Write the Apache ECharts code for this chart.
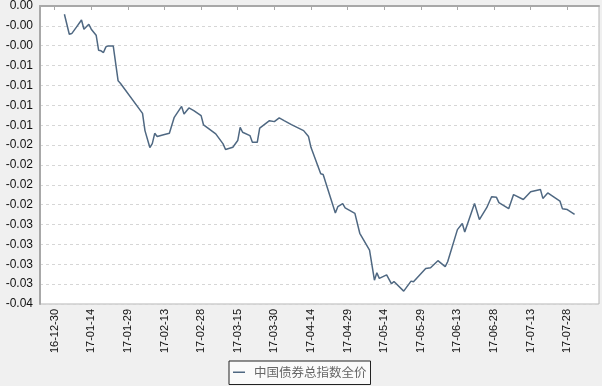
<!DOCTYPE html>
<html>
<head>
<meta charset="utf-8">
<script src="https://cdn.jsdelivr.net/npm/echarts@6/dist/echarts.min.js"></script>
<style>
html,body{margin:0;padding:0;background:#f0f0f0;}
#chart{width:602px;height:386px;}
</style>
</head>
<body>
<div id="chart"></div>
<script>
// Axis range (calendar days)
const axisStart = '2016-12-24';
const axisEnd = '2017-08-10';
const labelAnchor = '16-12-30';
const labelEvery = 15;

// Series: dates and values
const seriesName = '中国债券总指数全价';
const dates = [
 '17-01-03','17-01-05','17-01-06','17-01-08','17-01-10','17-01-11','17-01-13','17-01-14','17-01-16','17-01-17',
 '17-01-18','17-01-19','17-01-20','17-01-21','17-01-23','17-01-25','17-01-26','17-02-04','17-02-05','17-02-07',
 '17-02-08','17-02-09','17-02-10','17-02-13','17-02-15','17-02-17','17-02-20','17-02-21','17-02-23','17-02-25',
 '17-02-28','17-03-01','17-03-06','17-03-09','17-03-10','17-03-13','17-03-15','17-03-16','17-03-17','17-03-20',
 '17-03-21','17-03-23','17-03-24','17-03-28','17-03-30','17-04-01','17-04-03','17-04-06','17-04-11','17-04-13',
 '17-04-14','17-04-18','17-04-19','17-04-20','17-04-24','17-04-25','17-04-27','17-04-28','17-05-02','17-05-04',
 '17-05-08','17-05-10','17-05-11','17-05-12','17-05-15','17-05-17','17-05-18','17-05-22','17-05-25','17-05-26',
 '17-05-31','17-06-02','17-06-05','17-06-08','17-06-09','17-06-13','17-06-15','17-06-16','17-06-20','17-06-22',
 '17-06-25','17-06-27','17-06-29','17-06-30','17-07-04','17-07-06','17-07-10','17-07-13','17-07-17','17-07-18',
 '17-07-20','17-07-25','17-07-26','17-07-28','17-07-31'
];
const values = [
 -0.00104,-0.00355,-0.00347,-0.00263,-0.00176,-0.00292,-0.00230,-0.00292,-0.00368,-0.00556,
 -0.00564,-0.00586,-0.00514,-0.00502,-0.00502,-0.00941,-0.00975,-0.01351,-0.01568,-0.01781,
 -0.01731,-0.01602,-0.01643,-0.01618,-0.01602,-0.01401,-0.01263,-0.01359,-0.01283,-0.01317,
 -0.01380,-0.01497,-0.01609,-0.01735,-0.01806,-0.01778,-0.01693,-0.01527,-0.01589,-0.01631,
 -0.01715,-0.01715,-0.01537,-0.01443,-0.01455,-0.01409,-0.01443,-0.01493,-0.01568,-0.01643,
 -0.01778,-0.02111,-0.02120,-0.02217,-0.02605,-0.02525,-0.02487,-0.02540,-0.02609,-0.02860,
 -0.03073,-0.03450,-0.03358,-0.03428,-0.03383,-0.03496,-0.03466,-0.03588,-0.03462,-0.03471,
 -0.03303,-0.03293,-0.03205,-0.03280,-0.03218,-0.02814,-0.02738,-0.02844,-0.02484,-0.02687,
 -0.02538,-0.02400,-0.02408,-0.02475,-0.02550,-0.02373,-0.02435,-0.02337,-0.02308,-0.02421,
 -0.02352,-0.02455,-0.02550,-0.02561,-0.02622
];

// Y axis
const yMin = -0.0375;
const yMax = 0;
const yStep = 0.0025;
const yTickLabels = ['0.00','-0.00','-0.00','-0.01','-0.01','-0.01','-0.01','-0.02','-0.02','-0.02','-0.02','-0.03','-0.03','-0.03','-0.03','-0.04']; // top -> bottom

// ---- build ----
function fmt(d){
  const y = String(d.getUTCFullYear()).slice(2);
  const m = String(d.getUTCMonth()+1).padStart(2,'0');
  const dd = String(d.getUTCDate()).padStart(2,'0');
  return y+'-'+m+'-'+dd;
}
const categories = [];
for (let t = Date.parse(axisStart+'T00:00:00Z'); t <= Date.parse(axisEnd+'T00:00:00Z'); t += 86400000) {
  categories.push(fmt(new Date(t)));
}
const valueMap = {};
dates.forEach((d,i)=>{ valueMap[d] = values[i]; });
const seriesData = categories.map(c => (c in valueMap ? valueMap[c] : null));
const anchorIdx = categories.indexOf(labelAnchor);
const showIdx = (i) => i >= anchorIdx && (i - anchorIdx) % labelEvery === 0;

const chart = echarts.init(document.getElementById('chart'), null, {renderer:'canvas'});
chart.setOption({
  backgroundColor: '#f0f0f0',
  animation: false,
  grid: {
    left: 40, top: 5, right: 3, bottom: 82,
    show: true, backgroundColor: '#ffffff', borderColor: '#b4b4b4', borderWidth: 1
  },
  legend: {
    left: 229, top: 361,
    data: [seriesName],
    backgroundColor: '#fafafa',
    borderColor: '#222', borderWidth: 1, borderRadius: 0,
    padding: [5, 4, 6, 4],
    itemWidth: 12, itemHeight: 1.5, itemGap: 0,
    icon: 'rect',
    textStyle: { color: '#666', fontSize: 12.5, fontFamily: 'Noto Sans CJK SC', padding: [0,0,0,4] }
  },
  xAxis: {
    type: 'category',
    data: categories,
    boundaryGap: false,
    axisLine: { show: true, lineStyle: { color: '#a8a8a8', width: 2 } },
    axisTick: { show: true, interval: (i)=>showIdx(i), length: 4, lineStyle: { color: '#a8a8a8' } },
    axisLabel: {
      interval: (i)=>showIdx(i), rotate: 90, margin: 5,
      color: '#111', fontSize: 11, fontFamily: 'Liberation Sans'
    },
    splitLine: { show: false }
  },
  yAxis: {
    type: 'value',
    min: yMin, max: yMax, interval: yStep,
    axisLine: { show: true, lineStyle: { color: '#a8a8a8', width: 2 } },
    axisTick: { show: false },
    axisLabel: {
      margin: 7, color: '#111', fontSize: 12, fontFamily: 'Liberation Sans',
      formatter: (v)=> yTickLabels[Math.round((yMax - v)/yStep)]
    },
    splitLine: { show: true, lineStyle: { color: '#d6d6d6', type: [3,3], width: 1 } }
  },
  series: [{
    name: seriesName,
    type: 'line',
    data: seriesData,
    connectNulls: true,
    symbol: 'none',
    lineStyle: { color: '#4f6882', width: 1.5 },
    itemStyle: { color: '#4f6882' }
  }]
});
</script>
</body>
</html>
